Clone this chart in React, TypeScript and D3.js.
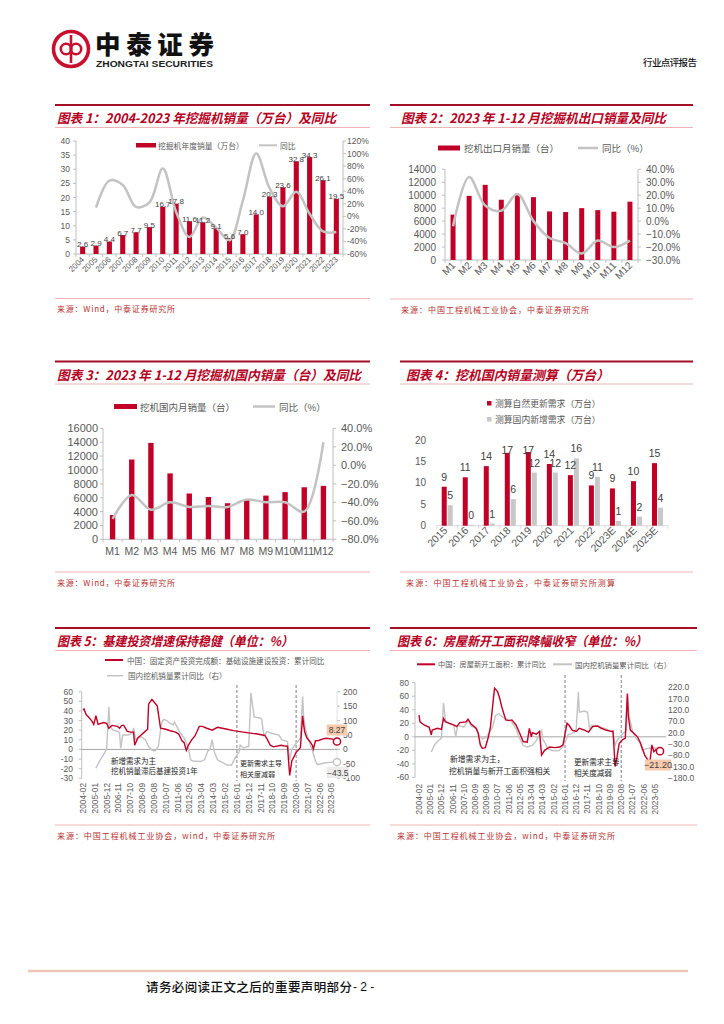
import React from "react";
import * as d3 from "d3";

const RED = "#c00026";
const GREY = "#c3c3c3";
const AXIS = "#bfbfbf";
const TXT = "#595959";
const LBL = "#404040";
const NUM = "'Liberation Sans', Arial, 'Noto Sans CJK SC', sans-serif";
const CJK = "'Noto Sans CJK SC', 'Noto Sans', sans-serif";
const TITLE_RED = "#b5001e";
const RULE = "#f0b4b4";

const parseM = d3.timeParse("%Y-%m");

// ---------- Chart 1: annual excavator sales ----------
const c1Years = ["2004","2005","2006","2007","2008","2009","2010","2011","2012","2013","2014","2015","2016","2017","2018","2019","2020","2021","2022","2023"];
const c1Sales = [2.6,2.9,4.4,6.7,7.7,9.5,16.7,17.8,11.6,11.2,9.1,5.6,7.0,14.0,20.3,23.6,32.8,34.3,26.1,19.5];
const c1Yoy: (number | null)[] = [null,14,57,50,15,22,76,7,-33,-2,-18,-38,25,100,45,16,39,4,-24,-25];
const c1LeftTicks = [0,5,10,15,20,25,30,35,40];
const c1RightTicks = [-60,-40,-20,0,20,40,60,80,100,120];

// ---------- Chart 2: 2023 monthly exports ----------
const months = ["M1","M2","M3","M4","M5","M6","M7","M8","M9","M10","M11","M12"];
const c2Export = [7000,9900,11600,9300,10100,9700,7500,7400,8000,7700,7450,9000];
const c2Yoy = [-4,34,12,8,21,0,-13,-17,-25,-15,-20,-15];
const c2LeftTicks = [0,2000,4000,6000,8000,10000,12000,14000];
const c2RightTicks = [-30,-20,-10,0,10,20,30,40];

// ---------- Chart 3: 2023 monthly domestic ----------
const c3Domestic = [3500,11500,13900,9500,6600,6100,5200,5700,6300,6800,7500,7700];
const c3Yoy = [-58,-32,-48,-40,-45,-44,-45,-37,-40,-40,-50,25];
const c3LeftTicks = [0,2000,4000,6000,8000,10000,12000,14000,16000];
const c3RightTicks = [-80,-60,-40,-20,0,20,40];

// ---------- Chart 4: demand estimates ----------
const c4Years = ["2015","2016","2017","2018","2019","2020","2021","2022","2023E","2024E","2025E"];
const c4Renewal = [9.1,11.3,13.9,17.0,17.2,14.4,11.8,9.4,8.7,10.4,14.6];
const c4New = [4.8,0.2,0.5,6.2,12.4,12.4,15.7,11.4,1.1,2.1,4.2];
const c4Ticks = [0,5,10,15,20];

// ---------- Chart 5: infrastructure investment vs excavator sales ----------
const c5Infra: [string, number][] = [
  ["2004-02",41],["2004-03",42],["2004-05",36],["2004-07",34],["2004-10",30],["2004-12",26],
  ["2005-02",35],["2005-04",26],["2005-09",28],["2005-12",27],["2006-02",22],["2006-05",25],
  ["2006-10",24],["2006-12",22],["2007-02",25],["2007-04",25],["2007-07",19],["2007-10",18],
  ["2008-01",18],["2008-02",4.5],["2008-05",12],["2008-08",15],["2008-11",18],["2009-02",21],
  ["2009-03",47],["2009-06",52],["2009-09",48],["2009-11",45],["2010-02",22],["2010-07",21],
  ["2010-11",19.4],["2011-04",18],["2011-07",16],["2011-10",9],["2011-12",7],["2012-02",-1],
  ["2012-04",4.5],["2012-07",10],["2012-10",14],["2013-02",24],["2013-05",24],["2013-09",22],
  ["2014-02",20],["2014-07",23],["2015-04",21],["2015-10",19.6],["2016-07",18],["2017-08",16],
  ["2018-03",14.5],["2018-05",11],["2018-08",4.4],["2018-11",2.7],["2019-06",4.4],["2019-10",3.5],
  ["2019-12",3.3],["2020-02",-27],["2020-04",-12],["2020-08",-3],["2020-11",0.6],["2020-12",2],
  ["2021-02",35],["2021-03",26],["2021-04",18],["2021-06",12],["2021-09",8],["2021-11",4.4],
  ["2021-12",0.4],["2022-02",9],["2022-05",9.3],["2022-09",11],["2022-12",11.6],["2023-06",10.7],
  ["2023-10",8.27]
];
const c5Excavator: [string, number][] = [
  ["2005-02",-65],["2005-06",-36],["2005-10",-13],["2005-12",2],["2006-02",148],["2006-03",79],
  ["2006-06",67],["2006-11",62],["2006-12",55],["2007-01",4],["2007-03",50],["2007-08",50],
  ["2007-12",55],["2008-01",75],["2008-03",35],["2008-08",44],["2008-12",33],["2009-03",10],
  ["2009-06",-2],["2009-09",-5],["2009-12",10],["2010-03",90],["2010-05",104],["2010-08",100],
  ["2010-11",90],["2011-02",85],["2011-03",95],["2011-07",67],["2011-12",39],["2012-04",4],
  ["2012-06",-36],["2012-08",-40],["2013-03",-42],["2013-07",-36],["2013-10",-5],["2013-12",0],
  ["2014-02",33],["2014-04",-8],["2014-07",-36],["2015-01",-48],["2015-04",-54],["2015-08",-54],
  ["2015-12",-25],["2016-03",-10],["2016-04",15],["2016-07",5],["2016-12",10],["2017-02",196],
  ["2017-05",113],["2017-11",108],["2017-12",105],["2018-02",48],["2018-05",62],["2018-10",55],
  ["2019-04",50],["2019-07",33],["2019-12",27],["2020-02",-36],["2020-04",0],["2020-08",21],
  ["2020-12",39],["2021-02",183],["2021-03",113],["2021-05",67],["2021-08",27],["2021-11",-2],
  ["2022-02",-42],["2022-04",-53],["2022-09",-48],["2023-02",-45],["2023-10",-43.5]
];
const c5LeftTicks = [-30,-20,-10,0,10,20,30,40,50,60];
const c5RightTicks = [-100,-50,0,50,100,150,200];

// ---------- Chart 6: housing starts vs excavator sales ----------
const c6Starts: [string, number][] = [
  ["2004-02",32],["2004-03",22],["2004-07",17.5],["2004-12",14],["2005-02",2.7],["2005-03",10],
  ["2005-08",12.6],["2005-12",11],["2006-02",27],["2006-04",22],["2006-08",20],["2006-12",17.5],
  ["2007-03",15],["2007-06",21],["2007-12",22],["2008-02",26],["2008-05",19],["2008-10",12.6],
  ["2008-12",5],["2009-02",-12],["2009-04",-17],["2009-07",-16],["2009-10",0],["2009-12",15],
  ["2010-04",72],["2010-07",67],["2010-09",57],["2010-11",44.5],["2011-03",25],["2011-06",24],
  ["2011-09",25],["2012-01",17.5],["2012-04",7.5],["2012-08",-7],["2012-12",-8],["2013-02",12.6],
  ["2013-04",0],["2013-05",6],["2013-09",4],["2013-12",8],["2014-02",-27],["2014-05",-20],
  ["2014-10",-15],["2015-03",-16],["2015-08",-15],["2015-11",-12],["2016-03",20],["2016-05",17],
  ["2016-08",10],["2016-12",8],["2017-03",12.6],["2017-08",10],["2017-12",7],["2018-04",15],
  ["2018-09",16],["2018-12",13],["2019-05",10],["2019-10",8],["2019-12",8.5],["2020-02",-44],
  ["2020-04",-29],["2020-06",-10],["2020-09",-4.7],["2020-12",-1.9],["2021-02",64],["2021-03",30],
  ["2021-05",10],["2021-12",0],["2022-03",-9.6],["2022-07",-27],["2022-10",-34],["2022-12",-39],
  ["2023-02",-12],["2023-04",-22],["2023-06",-19],["2023-08",-23],["2023-10",-21.2]
];
const c6Excavator: [string, number][] = [
  ["2005-02",-65],["2005-05",-36],["2005-08",-18.5],["2005-12",-4],["2006-02",150],["2006-04",72],
  ["2006-08",59],["2006-12",52],["2007-02",4],["2007-04",52],["2007-10",44],["2008-02",74],
  ["2008-05",52],["2008-10",37],["2009-01",8],["2009-04",-7],["2009-08",0],["2009-11",20],
  ["2010-02",44],["2010-05",96],["2010-08",103],["2010-12",88],["2011-03",81],["2011-08",73],
  ["2012-01",37],["2012-04",0],["2012-08",-36],["2012-12",-43],["2013-05",-36],["2013-09",-14],
  ["2014-02",30],["2014-03",-7],["2014-06",-29],["2014-08",-51],["2015-01",-58],["2015-07",-60],
  ["2015-11",-40],["2016-02",-11],["2016-04",11],["2016-07",15],["2016-10",22],["2016-12",37],
  ["2017-02",200],["2017-03",110],["2017-08",115],["2017-11",110],["2018-01",37],["2018-03",52],
  ["2018-07",52],["2018-12",44],["2019-05",37],["2019-08",30],["2019-12",22],["2020-02",-36],
  ["2020-04",-14],["2020-08",8],["2020-11",22],["2021-01",30],["2021-02",184],["2021-04",88],
  ["2021-07",30],["2021-10",0],["2022-02",-21],["2022-05",-58],["2022-08",-51],["2023-01",-47],
  ["2023-10",-47]
];
const c6LeftTicks = [-60,-40,-20,0,20,40,60,80];
const c6RightTicks = [-180,-130,-80,-30,20,70,120,170,220];

const monthTicks = ["2004-02","2005-01","2005-12","2006-11","2007-10","2008-09","2009-08","2010-07","2011-06","2012-05","2013-04","2014-03","2015-02","2016-01","2016-12","2017-11","2018-10","2019-09","2020-08","2021-07","2022-06","2023-05"];
const phaseBreaks = ["2016-01","2020-08"];

type Pt = { d: Date; v: number };
const toPts = (a: [string, number][]): Pt[] => a.map(([d, v]) => ({ d: parseM(d) as Date, v }));

function Frame(p: { x0: number; x1: number; top: number; tx: number; title: string; tw: number; src: number; source: string; sw: number }) {
  return (
    <g>
      <line x1={p.x0} x2={p.x1} y1={p.top} y2={p.top} stroke="#a50f24" strokeWidth={2} />
      <text x={p.tx} y={p.top + 12.5} dominantBaseline="central" fontFamily={CJK} fontWeight={700} fontStyle="italic"
        fontSize={13} fill={TITLE_RED} textLength={p.tw} lengthAdjust="spacingAndGlyphs">{p.title}</text>
      <line x1={p.x0} x2={p.x1} y1={p.top + 22.5} y2={p.top + 22.5} stroke={RULE} strokeWidth={1} />
      <line x1={p.x0} x2={p.x1} y1={p.src} y2={p.src} stroke={RULE} strokeWidth={1} />
      <text x={p.tx} y={p.src + 10} dominantBaseline="central" fontFamily={CJK} fontSize={8} fill="#b8312f"
        textLength={p.sw} lengthAdjust="spacing">{p.source}</text>
    </g>
  );
}

function Header() {
  return (
    <g>
      <circle cx={71} cy={49} r={17.5} fill="none" stroke="#c8102e" strokeWidth={3.6} />
      <circle cx={66} cy={49} r={5.2} fill="none" stroke="#c8102e" strokeWidth={2.6} />
      <circle cx={76} cy={49} r={5.2} fill="none" stroke="#c8102e" strokeWidth={2.6} />
      <line x1={71} x2={71} y1={35} y2={63} stroke="#c8102e" strokeWidth={2.6} />
      <text x={95} y={42.5} dominantBaseline="central" fontFamily={CJK} fontWeight={900} fontSize={25.5} fill="#111"
        textLength={119} lengthAdjust="spacing">中泰证券</text>
      <text x={96} y={64} dominantBaseline="central" fontFamily={NUM} fontWeight={700} fontSize={8.6} fill="#222"
        textLength={117} lengthAdjust="spacingAndGlyphs">ZHONGTAI SECURITIES</text>
      <text x={643} y={62} dominantBaseline="central" fontFamily={CJK} fontWeight={500} fontSize={9.5} fill="#111"
        textLength={54} lengthAdjust="spacing">行业点评报告</text>
    </g>
  );
}

function Chart1() {
  const x = d3.scaleBand<string>().domain(c1Years).range([76, 343]).paddingInner(0.62).paddingOuter(0.31);
  const yL = d3.scaleLinear().domain([0, 40]).range([254, 141]);
  const yR = d3.scaleLinear().domain([-60, 120]).range([254, 141]);
  const cx = (c: string) => (x(c) ?? 0) + x.bandwidth() / 2;
  const pts: [number, number | null][] = c1Years.map((c, i) => [cx(c), c1Yoy[i]]);
  const line = d3.line<[number, number | null]>().defined(d => d[1] != null).x(d => d[0]).y(d => yR(d[1] as number)).curve(d3.curveCatmullRom.alpha(0.5));
  const step = x.step();
  return (
    <g>
      <rect x={136} y={143} width={20} height={4.5} fill={RED} />
      <text x={158} y={145.3} dominantBaseline="central" fontFamily={CJK} fontSize={7.8} fill={TXT}>挖掘机年度销量（万台）</text>
      <line x1={259} x2={277} y1={145.3} y2={145.3} stroke={GREY} strokeWidth={2} />
      <text x={280} y={145.3} dominantBaseline="central" fontFamily={CJK} fontSize={7.8} fill={TXT}>同比</text>
      <line x1={76} x2={76} y1={141} y2={254} stroke={AXIS} />
      {c1LeftTicks.map(t => (
        <g key={t}>
          <line x1={73} x2={76} y1={yL(t)} y2={yL(t)} stroke={AXIS} />
          <text x={70} y={yL(t)} textAnchor="end" dominantBaseline="central" fontSize={8.5} fill={TXT}>{t}</text>
        </g>
      ))}
      <line x1={343} x2={343} y1={141} y2={254} stroke={AXIS} />
      {c1RightTicks.map(t => (
        <g key={t}>
          <line x1={343} x2={346} y1={yR(t)} y2={yR(t)} stroke={AXIS} />
          <text x={347} y={yR(t)} dominantBaseline="central" fontSize={8.5} fill={TXT}>{t}%</text>
        </g>
      ))}
      <line x1={76} x2={343} y1={254} y2={254} stroke={AXIS} />
      {d3.range(c1Years.length + 1).map(i => (
        <line key={i} x1={76 + i * step} x2={76 + i * step} y1={254} y2={257} stroke={AXIS} />
      ))}
      {c1Years.map((c, i) => (
        <rect key={c} x={x(c)} y={yL(c1Sales[i])} width={x.bandwidth()} height={254 - yL(c1Sales[i])} fill={RED} />
      ))}
      <path d={line(pts) ?? ""} fill="none" stroke={GREY} strokeWidth={2.5} />
      {c1Years.map((c, i) => (
        <text key={c} x={cx(c)} y={yL(c1Sales[i]) - 2} textAnchor="middle" dominantBaseline="central" fontSize={8} fill={LBL}>
          {d3.format(".1f")(c1Sales[i])}
        </text>
      ))}
      {c1Years.map(c => (
        <text key={c} transform={`translate(${cx(c) + 2},${260}) rotate(-45)`} textAnchor="end" fontSize={8} fill={TXT}>{c}</text>
      ))}
    </g>
  );
}

function Chart2() {
  const x = d3.scaleBand<string>().domain(months).range([445, 638]).paddingInner(0.69).paddingOuter(0.345);
  const yL = d3.scaleLinear().domain([0, 14000]).range([260, 169.3]);
  const yR = d3.scaleLinear().domain([-30, 40]).range([260, 169.3]);
  const cx = (c: string) => (x(c) ?? 0) + x.bandwidth() / 2;
  const line = d3.line<number>().x((_, i) => cx(months[i])).y(v => yR(v)).curve(d3.curveCatmullRom.alpha(0.5));
  const step = x.step();
  return (
    <g>
      <rect x={438} y={145.5} width={22} height={5} fill={RED} />
      <text x={464} y={148} dominantBaseline="central" fontFamily={CJK} fontSize={9.5} fill={TXT}>挖机出口月销量（台）</text>
      <line x1={578} x2={598} y1={148} y2={148} stroke={GREY} strokeWidth={2.5} />
      <text x={602} y={148} dominantBaseline="central" fontFamily={CJK} fontSize={9.5} fill={TXT}>同比（%）</text>
      <line x1={445} x2={445} y1={169.3} y2={260} stroke={AXIS} />
      {c2LeftTicks.map(t => (
        <g key={t}>
          <line x1={442} x2={445} y1={yL(t)} y2={yL(t)} stroke={AXIS} />
          <text x={436} y={yL(t)} textAnchor="end" dominantBaseline="central" fontSize={10} fill={TXT}>{t}</text>
        </g>
      ))}
      <line x1={638} x2={638} y1={169.3} y2={260} stroke={AXIS} />
      {c2RightTicks.map(t => (
        <g key={t}>
          <line x1={638} x2={641} y1={yR(t)} y2={yR(t)} stroke={AXIS} />
          <text x={646} y={yR(t)} dominantBaseline="central" fontSize={10} fill={TXT}>{d3.format(".1f")(t)}%</text>
        </g>
      ))}
      <line x1={445} x2={638} y1={260} y2={260} stroke={AXIS} />
      {d3.range(months.length + 1).map(i => (
        <line key={i} x1={445 + i * step} x2={445 + i * step} y1={260} y2={263} stroke={AXIS} />
      ))}
      {months.map((m, i) => (
        <rect key={m} x={x(m)} y={yL(c2Export[i])} width={x.bandwidth()} height={260 - yL(c2Export[i])} fill={RED} />
      ))}
      <path d={line(c2Yoy) ?? ""} fill="none" stroke={GREY} strokeWidth={2.5} />
      {months.map(m => (
        <text key={m} transform={`translate(${cx(m) + 3},${266}) rotate(-45)`} textAnchor="end" fontSize={10} fill={TXT}>{m}</text>
      ))}
    </g>
  );
}

function Chart3() {
  const x = d3.scaleBand<string>().domain(months).range([103, 333]).paddingInner(0.72).paddingOuter(0.36);
  const yL = d3.scaleLinear().domain([0, 16000]).range([539.3, 428.3]);
  const yR = d3.scaleLinear().domain([-80, 40]).range([539.3, 428.3]);
  const cx = (c: string) => (x(c) ?? 0) + x.bandwidth() / 2;
  const line = d3.line<number>().x((_, i) => cx(months[i])).y(v => yR(v)).curve(d3.curveCatmullRom.alpha(0.5));
  const step = x.step();
  return (
    <g>
      <rect x={114} y={404} width={23} height={5} fill={RED} />
      <text x={140} y={406.5} dominantBaseline="central" fontFamily={CJK} fontSize={9.5} fill={TXT}>挖机国内月销量（台）</text>
      <line x1={253} x2={275} y1={406.5} y2={406.5} stroke={GREY} strokeWidth={2.5} />
      <text x={279} y={406.5} dominantBaseline="central" fontFamily={CJK} fontSize={9.5} fill={TXT}>同比（%）</text>
      <line x1={103} x2={103} y1={428.3} y2={539.3} stroke={AXIS} />
      {c3LeftTicks.map(t => (
        <g key={t}>
          <line x1={100} x2={103} y1={yL(t)} y2={yL(t)} stroke={AXIS} />
          <text x={98} y={yL(t)} textAnchor="end" dominantBaseline="central" fontSize={11} fill={TXT}>{t}</text>
        </g>
      ))}
      <line x1={333} x2={333} y1={428.3} y2={539.3} stroke={AXIS} />
      {c3RightTicks.map(t => (
        <g key={t}>
          <line x1={333} x2={336} y1={yR(t)} y2={yR(t)} stroke={AXIS} />
          <text x={341} y={yR(t)} dominantBaseline="central" fontSize={11} fill={TXT}>{d3.format(".1f")(t)}%</text>
        </g>
      ))}
      <line x1={103} x2={333} y1={539.3} y2={539.3} stroke={AXIS} />
      {d3.range(months.length + 1).map(i => (
        <line key={i} x1={103 + i * step} x2={103 + i * step} y1={539.3} y2={542.3} stroke={AXIS} />
      ))}
      {months.map((m, i) => (
        <rect key={m} x={x(m)} y={yL(c3Domestic[i])} width={x.bandwidth()} height={539.3 - yL(c3Domestic[i])} fill={RED} />
      ))}
      <path d={line(c3Yoy) ?? ""} fill="none" stroke={GREY} strokeWidth={2.5} />
      {months.map(m => (
        <text key={m} x={cx(m)} y={551} textAnchor="middle" dominantBaseline="central" fontSize={10.5} fill={TXT}>{m}</text>
      ))}
    </g>
  );
}

function Chart4() {
  const x = d3.scaleBand<string>().domain(c4Years).range([436.7, 668]);
  const y = d3.scaleLinear().domain([0, 20]).range([525.7, 440]);
  const cx = (c: string) => (x(c) ?? 0) + x.bandwidth() / 2;
  const bw = 5;
  return (
    <g>
      <rect x={487} y={401} width={4.5} height={4.5} fill={RED} />
      <text x={495} y={403.3} dominantBaseline="central" fontFamily={CJK} fontSize={8.8} fill={TXT}>测算自然更新需求（万台）</text>
      <rect x={487} y={417} width={4.5} height={4.5} fill="#c8c8c8" />
      <text x={495} y={419.3} dominantBaseline="central" fontFamily={CJK} fontSize={8.8} fill={TXT}>测算国内新增需求（万台）</text>
      {c4Ticks.map(t => (
        <text key={t} x={426} y={y(t)} textAnchor="end" dominantBaseline="central" fontSize={10} fill={TXT}>{t}</text>
      ))}
      <line x1={436.7} x2={668} y1={525.7} y2={525.7} stroke="#d9d9d9" />
      {d3.range(c4Years.length + 1).map(i => (
        <line key={i} x1={436.7 + i * x.step()} x2={436.7 + i * x.step()} y1={525.7} y2={528.7} stroke="#d9d9d9" />
      ))}
      {c4Years.map((c, i) => (
        <g key={c}>
          <rect x={cx(c) - 5.5} y={y(c4Renewal[i])} width={bw} height={525.7 - y(c4Renewal[i])} fill={RED} />
          <rect x={cx(c) + 0.5} y={y(c4New[i])} width={bw} height={525.7 - y(c4New[i])} fill="#c8c8c8" />
          <text x={cx(c) - 3} y={Math.max(y(c4Renewal[i]) - 10, 449.5)} textAnchor="middle" dominantBaseline="central" fontSize={10.5} fill={LBL}>
            {Math.round(c4Renewal[i])}
          </text>
          <text x={cx(c) + 3} y={y(c4New[i]) - 10} textAnchor="middle" dominantBaseline="central" fontSize={10.5} fill={LBL}>
            {Math.round(c4New[i])}
          </text>
          <text transform={`translate(${cx(c) + 1},${531}) rotate(-45)`} textAnchor="end" fontSize={10.5} fill={TXT}>{c}</text>
        </g>
      ))}
    </g>
  );
}

function TimeAxisLabels(p: { x: d3.ScaleTime<number, number>; y: number }) {
  return (
    <g>
      {monthTicks.map(m => (
        <text key={m} transform={`translate(${p.x(parseM(m) as Date)},${p.y}) rotate(-90)`} textAnchor="end" dy="0.35em"
          fontSize={8.3} fill={TXT}>{m}</text>
      ))}
    </g>
  );
}

function Chart5() {
  const x = d3.scaleTime().domain([parseM("2004-02") as Date, parseM("2023-10") as Date]).range([83, 337]);
  const yL = d3.scaleLinear().domain([-30, 60]).range([778.3, 691.7]);
  const yR = d3.scaleLinear().domain([-100, 200]).range([778.3, 691.7]);
  const infra = toPts(c5Infra);
  const exc = toPts(c5Excavator);
  const lineL = d3.line<Pt>().x(p => x(p.d)).y(p => yL(p.v));
  const lineR = d3.line<Pt>().x(p => x(p.d)).y(p => yR(p.v));
  const lastI = infra[infra.length - 1];
  const lastE = exc[exc.length - 1];
  return (
    <g>
      <line x1={105} x2={123} y1={660} y2={660} stroke={RED} strokeWidth={2} />
      <text x={127} y={660} dominantBaseline="central" fontFamily={CJK} fontSize={7.6} fill={TXT}>中国：固定资产投资完成额：基础设施建设投资：累计同比</text>
      <line x1={107} x2={123} y1={675.7} y2={675.7} stroke={GREY} strokeWidth={1.5} />
      <text x={128} y={675.7} dominantBaseline="central" fontFamily={CJK} fontSize={7.6} fill={TXT}>国内挖机销量累计同比（右）</text>
      <line x1={81.7} x2={81.7} y1={691.7} y2={778.3} stroke={AXIS} />
      {c5LeftTicks.map(t => (
        <g key={t}>
          <line x1={78.7} x2={81.7} y1={yL(t)} y2={yL(t)} stroke={AXIS} />
          <text x={73} y={yL(t)} textAnchor="end" dominantBaseline="central" fontSize={8.5} fill={TXT}>{t}</text>
        </g>
      ))}
      <line x1={337} x2={337} y1={691.7} y2={778.3} stroke="#e3e3e3" />
      {c5RightTicks.map(t => (
        <g key={t}>
          <line x1={337} x2={340} y1={yR(t)} y2={yR(t)} stroke={AXIS} />
          <text x={343} y={yR(t)} dominantBaseline="central" fontSize={8.5} fill={TXT}>{t}</text>
        </g>
      ))}
      <line x1={81.7} x2={337} y1={yL(0)} y2={yL(0)} stroke="#a6a6a6" />
      {phaseBreaks.map(b => (
        <line key={b} x1={x(parseM(b) as Date)} x2={x(parseM(b) as Date)} y1={685} y2={781} stroke="#7f7f7f" strokeDasharray="3,2" />
      ))}
      <path d={lineR(exc) ?? ""} fill="none" stroke={GREY} strokeWidth={1.4} />
      <path d={lineL(infra) ?? ""} fill="none" stroke={RED} strokeWidth={1.4} />
      <circle cx={x(lastI.d)} cy={yL(lastI.v)} r={3.6} fill="#fff" stroke={RED} strokeWidth={1.5} />
      <circle cx={x(lastE.d)} cy={yR(lastE.v)} r={3.6} fill="#fff" stroke={GREY} strokeWidth={1.5} />
      <rect x={326.7} y={724.5} width={20.5} height={11} fill="#f8cbad" />
      <text x={337} y={730} textAnchor="middle" dominantBaseline="central" fontSize={8.5} fill={LBL}>{d3.format(".2f")(lastI.v)}</text>
      <rect x={326.7} y={767} width={22} height={11} fill="#ececec" />
      <text x={337.7} y={772.5} textAnchor="middle" dominantBaseline="central" fontSize={8.5} fill={LBL}>{d3.format(".1f")(lastE.v)}</text>
      <text x={111} y={760} dominantBaseline="central" fontFamily={CJK} fontSize={7.5} fill="#262626">新增需求为主</text>
      <text x={111} y={770.5} dominantBaseline="central" fontFamily={CJK} fontSize={7.5} fill="#262626">挖机销量滞后基建投资1年</text>
      <text x={240} y={763} dominantBaseline="central" fontFamily={CJK} fontSize={7} fill="#262626">更新需求主导</text>
      <text x={240} y={773.5} dominantBaseline="central" fontFamily={CJK} fontSize={7} fill="#262626">相关度减弱</text>
      <TimeAxisLabels x={x} y={783} />
    </g>
  );
}

function Chart6() {
  const x = d3.scaleTime().domain([parseM("2004-02") as Date, parseM("2023-10") as Date]).range([419, 660]);
  const yL = d3.scaleLinear().domain([-60, 80]).range([777.4, 682.7]);
  const yR = d3.scaleLinear().domain([-180, 220]).range([778.2, 687.2]);
  const starts = toPts(c6Starts);
  const exc = toPts(c6Excavator);
  const lineL = d3.line<Pt>().x(p => x(p.d)).y(p => yL(p.v));
  const lineR = d3.line<Pt>().x(p => x(p.d)).y(p => yR(p.v));
  const lastS = starts[starts.length - 1];
  return (
    <g>
      <line x1={417} x2={435} y1={664.3} y2={664.3} stroke={RED} strokeWidth={2} />
      <text x={438} y={664.3} dominantBaseline="central" fontFamily={CJK} fontSize={7.2} fill={TXT}>中国：房屋新开工面积：累计同比</text>
      <line x1={553} x2={572} y1={664.3} y2={664.3} stroke={GREY} strokeWidth={2} />
      <text x={575} y={664.3} dominantBaseline="central" fontFamily={CJK} fontSize={7.4} fill={TXT}>国内挖机销量累计同比（右）</text>
      <line x1={415} x2={415} y1={682.7} y2={777.4} stroke={AXIS} />
      {c6LeftTicks.map(t => (
        <g key={t}>
          <line x1={412} x2={415} y1={yL(t)} y2={yL(t)} stroke={AXIS} />
          <text x={409} y={yL(t)} textAnchor="end" dominantBaseline="central" fontSize={8.5} fill={TXT}>{t}</text>
        </g>
      ))}
      {c6RightTicks.map(t => (
        <text key={t} x={668} y={yR(t)} dominantBaseline="central" fontSize={8.5} fill={TXT}>{d3.format(".1f")(t)}</text>
      ))}
      <line x1={415} x2={666} y1={yL(0)} y2={yL(0)} stroke="#a6a6a6" />
      {phaseBreaks.map(b => (
        <line key={b} x1={x(parseM(b) as Date)} x2={x(parseM(b) as Date)} y1={675} y2={781} stroke="#7f7f7f" strokeDasharray="3,2" />
      ))}
      <path d={lineR(exc) ?? ""} fill="none" stroke={GREY} strokeWidth={1.4} />
      <path d={lineL(starts) ?? ""} fill="none" stroke={RED} strokeWidth={1.4} />
      <circle cx={x(lastS.d)} cy={yL(lastS.v)} r={3.6} fill="#fff" stroke={RED} strokeWidth={1.5} />
      <rect x={645} y={759.5} width={26} height={11} fill="#f8cbad" />
      <text x={658} y={765} textAnchor="middle" dominantBaseline="central" fontSize={9} fill={LBL}>{d3.format(".2f")(lastS.v)}</text>
      <text x={450} y={758.5} dominantBaseline="central" fontFamily={CJK} fontSize={7.8} fill="#262626">新增需求为主，</text>
      <text x={449} y={770} dominantBaseline="central" fontFamily={CJK} fontSize={7.8} fill="#262626">挖机销量与新开工面积强相关</text>
      <text x={574} y={761.5} dominantBaseline="central" fontFamily={CJK} fontSize={7.6} fill="#262626">更新需求主导</text>
      <text x={574} y={772} dominantBaseline="central" fontFamily={CJK} fontSize={7.6} fill="#262626">相关度减弱</text>
      <TimeAxisLabels x={x} y={784} />
    </g>
  );
}

export default function App() {
  return (
    <svg width={724} height={1024} viewBox="0 0 724 1024" fontFamily={NUM}
      style={{ position: "absolute", left: 0, top: 0, display: "block", background: "#fff" }}>
      <rect width={724} height={1024} fill="#fff" />
      <Header />
      <Frame x0={55} x1={370} top={105} tx={57} title="图表 1：2004-2023 年挖掘机销量（万台）及同比" tw={279}
        src={298.5} source="来源：Wind，中泰证券研究所" sw={118} />
      <Frame x0={390} x1={693} top={105} tx={401} title="图表 2：2023 年 1-12 月挖掘机出口销量及同比" tw={265}
        src={299} source="来源：中国工程机械工业协会，中泰证券研究所" sw={188} />
      <Frame x0={55} x1={370} top={361.5} tx={57} title="图表 3：2023 年 1-12 月挖掘机国内销量（台）及同比" tw={304}
        src={572} source="来源：Wind，中泰证券研究所" sw={118} />
      <Frame x0={400} x1={693} top={361.5} tx={406} title="图表 4：挖机国内销量测算（万台）" tw={203}
        src={572} source="来源：中国工程机械工业协会，中泰证券研究所测算" sw={209} />
      <Frame x0={55} x1={370} top={628} tx={57} title="图表 5：基建投资增速保持稳健（单位：%）" tw={236}
        src={825} source="来源：中国工程机械工业协会，wind，中泰证券研究所" sw={218} />
      <Frame x0={390} x1={697} top={628} tx={397} title="图表 6：房屋新开工面积降幅收窄（单位：%）" tw={250}
        src={825} source="来源：中国工程机械工业协会，wind，中泰证券研究所" sw={218} />
      <Chart1 />
      <Chart2 />
      <Chart3 />
      <Chart4 />
      <Chart5 />
      <Chart6 />
      <line x1={28} x2={688} y1={971} y2={971} stroke="#ecc8b2" strokeWidth={2.5} />
      <text x={146} y={986.5} dominantBaseline="central" fontFamily={CJK} fontWeight={500} fontSize={12.5} fill="#111"
        textLength={206} lengthAdjust="spacing">请务必阅读正文之后的重要声明部分</text>
      <text x={353} y={986.5} dominantBaseline="central" fontFamily={NUM} fontSize={12} fill="#111">- 2 -</text>
    </svg>
  );
}
